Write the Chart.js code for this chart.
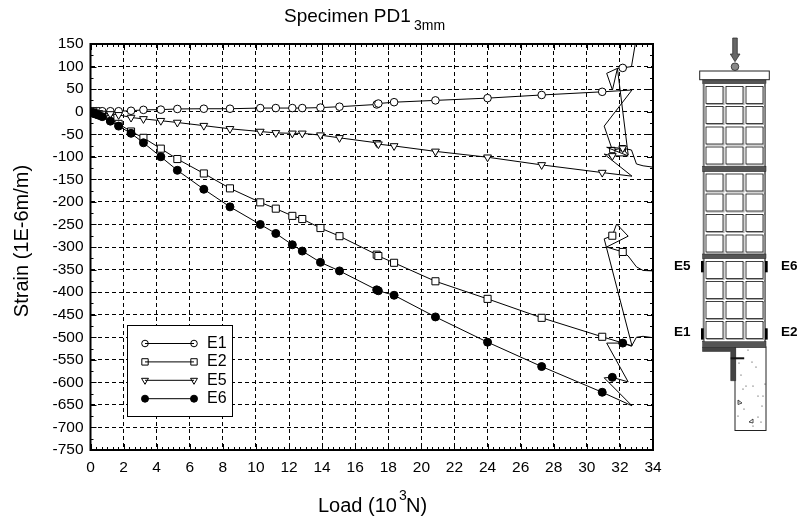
<!DOCTYPE html>
<html>
<head>
<meta charset="utf-8">
<script src="https://cdn.jsdelivr.net/npm/chart.js@4"></script>
<style>
    html, body { margin: 0; padding: 0; background: #fff; }
    #wrap { position: relative; width: 797px; height: 521px; overflow: hidden; font-family: "Liberation Sans", Arial, sans-serif; color: #000; }
    #sensorChart { position: absolute; left: 0; top: 0; }
    #diagram { position: absolute; left: 0; top: 0; }
    .label { position: absolute; white-space: nowrap; line-height: 1; }
    .small { position: absolute; white-space: nowrap; line-height: 1; }
</style>
</head>
<body>
<div id="wrap">
    <canvas id="sensorChart" width="797" height="521"></canvas>
    <svg id="diagram" width="797" height="521"></svg>
    <div class="label" style="left:284px; top:6px; font-size:19px;">Specimen PD1</div>
    <div class="small" style="left:414px; top:18px; font-size:14px;">3mm</div>
    <div class="label" style="left:318px; top:495px; font-size:20px;">Load (10</div>
    <div class="small" style="left:399px; top:488px; font-size:14px;">3</div>
    <div class="label" style="left:406px; top:495px; font-size:20px;">N)</div>
    <div class="label" style="left:21px; top:241px; font-size:20px; transform: translate(-50%, -50%) rotate(-90deg);">Strain (1E-6m/m)</div>
</div>
<script>
// Load levels where all gauges were read (these carry a marker)
const baseLoad = [0.1, 0.2, 0.35, 0.5, 0.71, 1.2, 1.7, 2.45, 3.2, 4.25, 5.25, 6.85, 8.43, 10.26, 11.2, 12.2, 12.8, 13.9, 15.05, 17.3, 17.4, 18.35, 20.85, 24, 27.27, 30.93];
const laterMarkedLoad = [31.54, 32.17];

const e1Strain = [1, 1, 1, 1, 1, 1, 1, 2, 4, 4.5, 6, 6.5, 6.5, 8, 8, 8, 8, 9, 11, 16, 18, 21, 25, 30, 37, 44];
const e2Strain = [-2, -3, -5, -6, -9, -16, -27, -44, -58, -82, -105, -137, -170, -201, -215, -231, -238, -258, -276, -317, -320, -335, -376, -415, -457, -499];
const e5Strain = [-1, -2, -3, -3, -4, -5, -7, -13, -16, -20, -24, -31, -38, -44, -47, -48, -48, -52, -58, -69, -72, -76, -88, -101, -118, -135];
const e6Strain = [-2, -4, -6, -8, -11, -21, -32, -48, -69, -100, -130, -172, -211, -250, -270, -295, -309, -334, -353, -395, -397, -407, -455, -511, -565, -622];

// Unloading part of each curve, after the last common load level
const e1TailLoad = [32.73, 31.05, 31.54, 32.17, 32.5, 31.85, 31.2, 31.55, 31.85, 32.17, 32.7, 32.95];
const e1TailStrain = [48, -32, -85, -81, -96, 96, 85, 48, 96, 97, 100, 155];
const e2TailLoad = [32.73, 31.05, 31.54, 31.8, 32.5, 31.2, 32.17, 32.5, 33, 33.4, 34];
const e2TailStrain = [-519, -282, -275, -249, -276, -300, -311, -320, -344, -352, -353];
const e5TailLoad = [32.73, 31.05, 31.54, 32.5, 31.2, 32.17, 32.7, 33, 33.4, 34];
const e5TailStrain = [-143, -94, -98, -98, -79, -81, -85, -116, -120, -123];
const e6TailLoad = [32.73, 31.05, 31.54, 32.5, 31.2, 32.17, 32.7, 33, 33.4, 34];
const e6TailStrain = [-652, -590, -589, -599, -513, -513, -520, -500, -498, -501];

function buildPoints(strain, tailLoad, tailStrain) {
    const xs = baseLoad.concat(tailLoad);
    const ys = strain.concat(tailStrain);
    return xs.map((x, i) => ({ x: x, y: ys[i] }));
}

function isMarked(x) {
    return baseLoad.includes(x) || laterMarkedLoad.includes(x);
}

function makeSeries(label, points, style, fill, size, order, rotation) {
    return {
        label: label,
        data: points,
        borderColor: '#000',
        borderWidth: 1,
        backgroundColor: fill,
        pointBackgroundColor: fill,
        pointBorderColor: '#000',
        pointBorderWidth: 1,
        pointStyle: style,
        pointRotation: rotation,
        pointRadius: ctx => (isMarked(ctx.raw.x) ? size : 0),
        pointHoverRadius: 0,
        tension: 0,
        order: order,
        legendSize: size
    };
}

// Two odd readings on the E1 curve are plotted as squares in the source
const e1Style = ctx => (ctx.raw && ctx.raw.y < -50 ? 'rect' : 'circle');

// Inward minor ticks, frame and the boxed legend
const framePlugin = {
    id: 'frame',
    afterDraw(chart) {
        const c = chart.ctx;
        const a = chart.chartArea;
        const xs = chart.scales.x;
        const ys = chart.scales.y;
        c.save();
        c.strokeStyle = '#000';
        c.lineWidth = 1;
        c.beginPath();
        // six minor divisions between labelled load ticks
        for (let n = 0; n <= 102; n++) {
            const px = Math.round(xs.getPixelForValue(n / 3)) + 0.5;
            const len = n % 6 === 0 ? 6 : 3;
            c.moveTo(px, a.bottom); c.lineTo(px, a.bottom - len);
            c.moveTo(px, a.top); c.lineTo(px, a.top + len);
        }
        for (let v = -750; v <= 150; v += 25) {
            const py = Math.round(ys.getPixelForValue(v)) + 0.5;
            const len = v % 50 === 0 ? 6 : 3;
            c.moveTo(a.left, py); c.lineTo(a.left + len, py);
            c.moveTo(a.right, py); c.lineTo(a.right - len, py);
        }
        c.stroke();
        c.lineWidth = 2;
        c.strokeRect(a.left, a.top, a.right - a.left, a.bottom - a.top);

        // legend box
        c.lineWidth = 1;
        c.fillStyle = '#fff';
        c.fillRect(127.5, 325.5, 105, 91);
        c.strokeRect(127.5, 325.5, 105, 91);
        c.font = '16px "Liberation Sans", Arial, sans-serif';
        c.textBaseline = 'middle';
        chart.data.datasets.forEach((ds, i) => {
            const y = 343.5 + i * 18.4;
            c.fillStyle = ds.backgroundColor;
            const style = i === 0 ? 'circle' : ds.pointStyle;
            Chart.helpers.drawPoint(c, { pointStyle: style, radius: ds.legendSize - 0.5, rotation: ds.pointRotation, borderWidth: 1 }, 145, y);
            Chart.helpers.drawPoint(c, { pointStyle: style, radius: ds.legendSize - 0.5, rotation: ds.pointRotation, borderWidth: 1 }, 194, y);
            c.beginPath();
            c.moveTo(145, y); c.lineTo(194, y);
            c.stroke();
            c.fillStyle = '#000';
            c.fillText(ds.label, 207, y);
        });
        c.restore();
    }
};

const tickFont = { family: '"Liberation Sans", Arial, sans-serif', size: 15.5 };

new Chart(document.getElementById('sensorChart').getContext('2d'), {
    type: 'line',
    data: {
        datasets: [
            makeSeries('E1', buildPoints(e1Strain, e1TailLoad, e1TailStrain), e1Style, '#fff', 3.8, 3, 0),
            makeSeries('E2', buildPoints(e2Strain, e2TailLoad, e2TailStrain), 'rect', '#fff', 5, 2, 0),
            makeSeries('E5', buildPoints(e5Strain, e5TailLoad, e5TailStrain), 'triangle', '#fff', 4.5, 1, 180),
            makeSeries('E6', buildPoints(e6Strain, e6TailLoad, e6TailStrain), 'circle', '#000', 4, 0, 0)
        ]
    },
    plugins: [framePlugin],
    options: {
        responsive: false,
        animation: false,
        layout: { padding: { top: 44, right: 144, left: 0, bottom: 0 } },
        plugins: { legend: { display: false }, title: { display: false }, tooltip: { enabled: false } },
        scales: {
            x: {
                type: 'linear',
                min: 0,
                max: 34,
                afterFit: scale => { scale.height = 71; },
                ticks: { stepSize: 2, color: '#000', font: tickFont, padding: 8, maxRotation: 0, autoSkip: false },
                grid: { color: '#000', drawTicks: false, lineWidth: 1 },
                border: { display: false, dash: [4, 3] }
            },
            y: {
                type: 'linear',
                min: -750,
                max: 150,
                afterFit: scale => { scale.width = 90.5; },
                ticks: { stepSize: 50, color: '#000', font: tickFont, padding: 7, autoSkip: false },
                grid: { color: '#000', drawTicks: false, lineWidth: 1 },
                border: { display: false, dash: [4, 3] }
            }
        }
    }
});

// Specimen sketch on the right
const svg = document.getElementById('diagram');
function shape(tag, attrs, text) {
    const el = document.createElementNS('http://www.w3.org/2000/svg', tag);
    Object.keys(attrs).forEach(k => el.setAttribute(k, attrs[k]));
    if (text) el.textContent = text;
    svg.appendChild(el);
}

const cellCols = [706, 726, 746];
const cellRows = [86.5, 106.5, 127, 147, 174, 194, 214.5, 235, 261.5, 281.5, 301.5, 321.5];
const bandRows = [[79.7, 4], [166.3, 5.4], [254, 4.7], [341.7, 5.6]];

shape('rect', { x: 735, y: 347, width: 31, height: 83.5, fill: '#fff', stroke: '#222', 'stroke-width': 1 });
shape('path', { d: 'M702.5 347.3H735.7V380.7H730.7V351.5H702.5Z', fill: '#444', stroke: '#222', 'stroke-width': 0.5 });
shape('rect', { x: 730.7, y: 357.3, width: 13.5, height: 2, fill: '#111' });
shape('rect', { x: 702.7, y: 84, width: 2, height: 258, fill: '#777' });
shape('rect', { x: 764, y: 84, width: 2, height: 258, fill: '#777' });
cellRows.forEach(y => cellCols.forEach(x => {
    shape('rect', { x: x + 1, y: y + 1, width: 17, height: 17, fill: 'none', stroke: '#aaa', 'stroke-width': 1 });
    shape('rect', { x: x, y: y, width: 17, height: 17, fill: '#fff', stroke: '#111', 'stroke-width': 0.8 });
}));
bandRows.forEach(b => {
    shape('rect', { x: 702.7, y: b[0], width: 63.3, height: b[1], fill: '#555', stroke: '#222', 'stroke-width': 0.5 });
});
shape('rect', { x: 699.7, y: 71, width: 69.6, height: 8.7, fill: '#fff', stroke: '#222', 'stroke-width': 1 });
shape('circle', { cx: 735, cy: 66.7, r: 3.8, fill: '#888', stroke: '#222', 'stroke-width': 0.8 });
shape('path', { d: 'M732.7 38H737.3V54H740L735 61.7L730.3 54H732.7Z', fill: '#666', stroke: '#222', 'stroke-width': 0.7 });

// gauge positions and concrete speckle
[[701, 261], [765, 261], [701, 328.3], [765, 328.3]].forEach(p => {
    shape('rect', { x: p[0], y: p[1], width: 2.7, height: 11.3, fill: '#000' });
});
[[748, 350], [739, 363], [752, 362], [756, 367], [741, 375], [746, 386], [743, 389], [765, 384], [753, 386], [758, 396], [739, 402], [763, 396], [762, 406], [744, 409], [738, 416], [758, 417], [753, 426], [761, 422]].forEach(p => {
    shape('circle', { cx: p[0], cy: p[1], r: 0.6, fill: '#222' });
});
shape('path', { d: 'M738 400l4 3l-4 1.5Z', fill: 'none', stroke: '#222', 'stroke-width': 0.8 });
shape('path', { d: 'M749 422l4-3l0 4Z', fill: 'none', stroke: '#222', 'stroke-width': 0.8 });

const gaugeFont = { 'font-family': 'Liberation Sans, Arial, sans-serif', 'font-size': 13.5, 'font-weight': 'bold', fill: '#000' };
[['E5', 674, 270], ['E6', 781, 270], ['E1', 674, 336], ['E2', 781, 336]].forEach(t => {
    shape('text', Object.assign({ x: t[1], y: t[2] }, gaugeFont), t[0]);
});
</script>
</body>
</html>
